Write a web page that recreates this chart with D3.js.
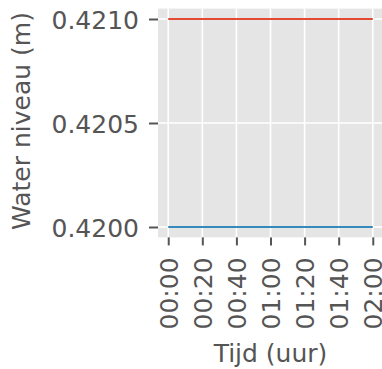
<!DOCTYPE html>
<html>
<head>
<meta charset="utf-8">
<script src="https://cdn.jsdelivr.net/npm/d3@7"></script>
<style>
  body { margin: 0; background: #fff; }
  svg { display: block; font-family: "DejaVu Sans", sans-serif; }
</style>
</head>
<body>
<svg width="382" height="369"></svg>
<script>
// time in minutes since start
const minutes = [0, 20, 40, 60, 80, 100, 120];
const seriesTop = [0.4210, 0.4210, 0.4210, 0.4210, 0.4210, 0.4210, 0.4210];
const seriesBottom = [0.4200, 0.4200, 0.4200, 0.4200, 0.4200, 0.4200, 0.4200];
const xTickLabels = ["00:00", "00:20", "00:40", "01:00", "01:20", "01:40", "02:00"];
const yTicks = [0.4200, 0.4205, 0.4210];

const svg = d3.select("svg");
const plotLeft = 158, plotRight = 383, plotTop = 8.6, plotBottom = 237.4;

// matplotlib-like 5% margins
const x = d3.scaleLinear()
  .domain([0 - 6, 120 + 6])
  .range([plotLeft, plotRight]);
const y = d3.scaleLinear()
  .domain([0.4200 - 0.00005, 0.4210 + 0.00005])
  .range([plotBottom, plotTop]);

svg.append("rect")
  .attr("x", plotLeft).attr("y", plotTop)
  .attr("width", plotRight - plotLeft).attr("height", plotBottom - plotTop)
  .attr("fill", "#E5E5E5");

// grid
svg.append("g").selectAll("line")
  .data(minutes)
  .enter().append("line")
  .attr("x1", d => x(d)).attr("x2", d => x(d))
  .attr("y1", plotTop).attr("y2", plotBottom)
  .attr("stroke", "#fff").attr("stroke-width", 1.6);
svg.append("g").selectAll("line")
  .data(yTicks)
  .enter().append("line")
  .attr("x1", plotLeft).attr("x2", plotRight)
  .attr("y1", d => y(d)).attr("y2", d => y(d))
  .attr("stroke", "#fff").attr("stroke-width", 1.6);

// lines
const line = d3.line().x((d, i) => x(minutes[i])).y(d => y(d));
svg.append("path").datum(seriesTop)
  .attr("d", line).attr("fill", "none")
  .attr("stroke", "#E24A33").attr("stroke-width", 2.1);
svg.append("path").datum(seriesBottom)
  .attr("d", line).attr("fill", "none")
  .attr("stroke", "#348ABD").attr("stroke-width", 2.1);

// y axis
const yAxis = svg.append("g")
  .attr("transform", `translate(${plotLeft},0)`)
  .call(d3.axisLeft(y).tickValues(yTicks).tickFormat(d3.format(".4f")).tickSize(9).tickPadding(10));
yAxis.select(".domain").remove();
yAxis.selectAll(".tick line").attr("stroke", "#555").attr("stroke-width", 2);
yAxis.selectAll(".tick text")
  .attr("fill", "#555").attr("font-size", 25)
  .attr("font-family", "DejaVu Sans").attr("dy", "0.36em");

// x axis
const xAxis = svg.append("g")
  .attr("transform", `translate(0,${plotBottom})`)
  .call(d3.axisBottom(x).tickValues(minutes).tickFormat((d, i) => xTickLabels[i]).tickSize(8));
xAxis.select(".domain").remove();
xAxis.selectAll(".tick line").attr("stroke", "#555").attr("stroke-width", 2);
xAxis.selectAll(".tick text")
  .attr("fill", "#555").attr("font-size", 25)
  .attr("font-family", "DejaVu Sans")
  .attr("text-anchor", "end")
  .attr("transform", "rotate(-90)")
  .attr("x", -20).attr("y", 0).attr("dy", "0.36em");

// axis labels
svg.append("text")
  .attr("x", (x(0) + x(120)) / 2).attr("y", 362)
  .attr("text-anchor", "middle")
  .attr("fill", "#555").attr("font-size", 25)
  .text("Tijd (uur)");
svg.append("text")
  .attr("transform", `translate(30,121) rotate(-90)`)
  .attr("text-anchor", "middle")
  .attr("fill", "#555").attr("font-size", 25)
  .text("Water niveau (m)");
</script>
</body>
</html>
